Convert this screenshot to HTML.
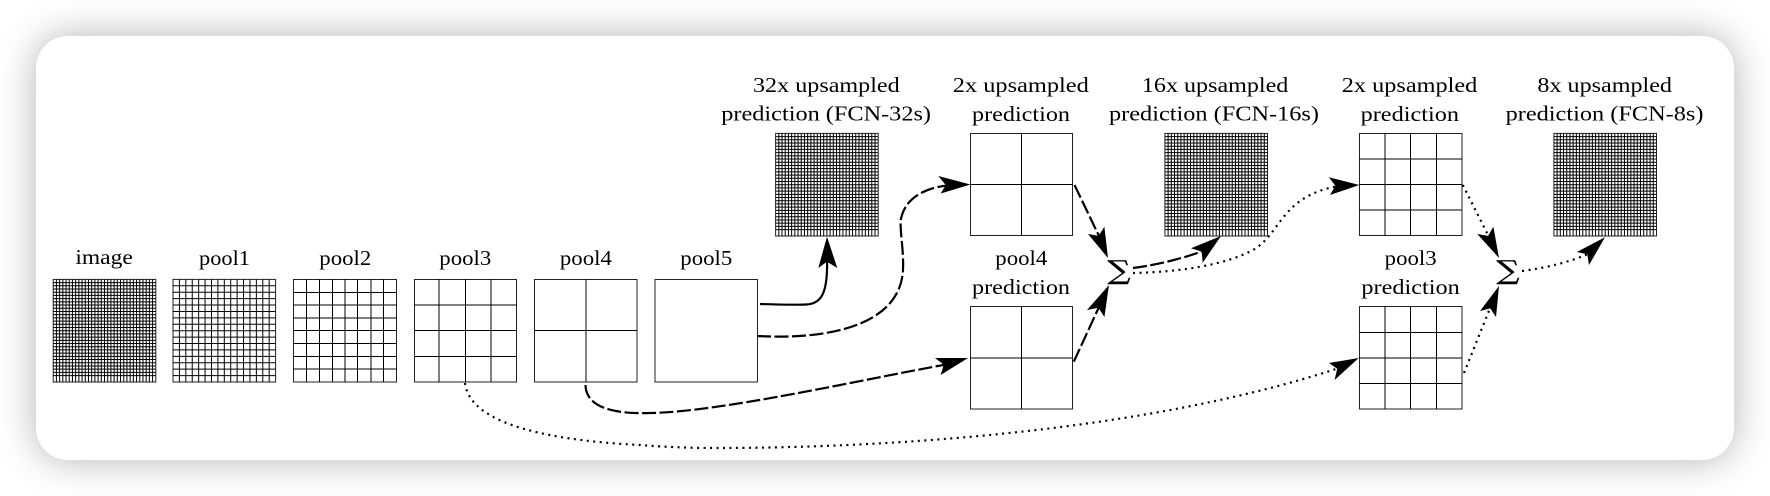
<!DOCTYPE html>
<html><head><meta charset="utf-8"><style>
html,body{margin:0;padding:0;width:1770px;height:496px;overflow:hidden;background:#fff}
#card{position:absolute;left:36px;top:36px;width:1698px;height:424px;background:#fff;border-radius:32px;box-shadow:0 0 38px rgba(0,0,0,.3)}
svg{position:absolute;left:0;top:0}
text{font-family:"Liberation Serif",serif;font-size:21.5px;fill:#000}
</style></head><body><div id="card"></div>
<svg width="1770" height="496" viewBox="0 0 1770 496" xmlns="http://www.w3.org/2000/svg">
<defs>
<g id="g16" fill="none" stroke="#000" stroke-width="1"><rect width="102.6" height="102.6" stroke="#222"/><path d="M6.4125 0v102.6m6.4125-102.6v102.6m6.4125-102.6v102.6m6.4125-102.6v102.6m6.4125-102.6v102.6m6.4125-102.6v102.6m6.4125-102.6v102.6m6.4125-102.6v102.6m6.4125-102.6v102.6m6.4125-102.6v102.6m6.4125-102.6v102.6m6.4125-102.6v102.6m6.4125-102.6v102.6m6.4125-102.6v102.6m6.4125-102.6v102.6M0 6.4125h102.6m-102.6 6.4125h102.6m-102.6 6.4125h102.6m-102.6 6.4125h102.6m-102.6 6.4125h102.6m-102.6 6.4125h102.6m-102.6 6.4125h102.6m-102.6 6.4125h102.6m-102.6 6.4125h102.6m-102.6 6.4125h102.6m-102.6 6.4125h102.6m-102.6 6.4125h102.6m-102.6 6.4125h102.6m-102.6 6.4125h102.6m-102.6 6.4125h102.6"/></g>
<g id="g32" fill="none" stroke="#000" stroke-width="1"><rect width="102.6" height="102.6" stroke="#222"/><path d="M3.206 0v102.6m3.206-102.6v102.6m3.206-102.6v102.6m3.206-102.6v102.6m3.206-102.6v102.6m3.206-102.6v102.6m3.206-102.6v102.6m3.206-102.6v102.6m3.206-102.6v102.6m3.206-102.6v102.6m3.206-102.6v102.6m3.206-102.6v102.6m3.206-102.6v102.6m3.206-102.6v102.6m3.206-102.6v102.6m3.206-102.6v102.6m3.206-102.6v102.6m3.206-102.6v102.6m3.206-102.6v102.6m3.206-102.6v102.6m3.206-102.6v102.6m3.206-102.6v102.6m3.206-102.6v102.6m3.206-102.6v102.6m3.206-102.6v102.6m3.206-102.6v102.6m3.206-102.6v102.6m3.206-102.6v102.6m3.206-102.6v102.6m3.206-102.6v102.6m3.206-102.6v102.6M0 3.206h102.6m-102.6 3.206h102.6m-102.6 3.206h102.6m-102.6 3.206h102.6m-102.6 3.206h102.6m-102.6 3.206h102.6m-102.6 3.206h102.6m-102.6 3.206h102.6m-102.6 3.206h102.6m-102.6 3.206h102.6m-102.6 3.206h102.6m-102.6 3.206h102.6m-102.6 3.206h102.6m-102.6 3.206h102.6m-102.6 3.206h102.6m-102.6 3.206h102.6m-102.6 3.206h102.6m-102.6 3.206h102.6m-102.6 3.206h102.6m-102.6 3.206h102.6m-102.6 3.206h102.6m-102.6 3.206h102.6m-102.6 3.206h102.6m-102.6 3.206h102.6m-102.6 3.206h102.6m-102.6 3.206h102.6m-102.6 3.206h102.6m-102.6 3.206h102.6m-102.6 3.206h102.6m-102.6 3.206h102.6"/></g>
</defs>

<use href="#g32" x="53.2" y="279.4"/>
<use href="#g16" x="173" y="279.4"/>
<use href="#g32" x="775.6" y="133.4"/>
<use href="#g32" x="1164.9" y="133.4"/>
<use href="#g32" x="1553.9" y="133.4"/>

<g fill="none" stroke="#000" stroke-width="1">
<!-- pool2 -->
<rect x="293.5" y="279.5" width="103" height="102.5" stroke="#222"/>
<path d="M306.5 279v103M319.5 279v103M332.5 279v103M345 279v103M357.5 279v103M371 279v103M383.5 279v103"/>
<path d="M293 292.500h104M293 305h104M293 318h104M293 330.500h104M293 343.500h104M293 356.500h104M293 369h104"/>
<!-- pool3 -->
<rect x="414.500" y="279.500" width="102" height="102.500" stroke="#222"/>
<path d="M439 279v103M465.500 279v103M491 279v103M414 305h103M414 330.500h103M414 356.500h103"/>
<!-- pool4 -->
<rect x="534.500" y="279.500" width="102.500" height="102.500" stroke="#222"/>
<path d="M586 279v103M534 330.500h103"/>
<!-- pool5 -->
<rect x="655" y="279.500" width="102.500" height="102.500" stroke="#222"/>
<!-- 2x upsampled -->
<rect x="970.500" y="133.500" width="102" height="102" stroke="#222"/>
<path d="M1021.500 133v103M970 184.500h103"/>
<!-- pool4 prediction -->
<rect x="970.500" y="306.500" width="102" height="102.500" stroke="#222"/>
<path d="M1021.500 306v103M970 358h103"/>
<!-- 2x upsampled second -->
<rect x="1359.500" y="133.500" width="102.500" height="102" stroke="#222"/>
<path d="M1385 133v103M1410.500 133v103M1436.500 133v103M1359 159h103M1359 184.500h103M1359 210h103"/>
<!-- pool3 prediction -->
<rect x="1359.500" y="306.500" width="102.500" height="102.500" stroke="#222"/>
<path d="M1385 306v103M1410.500 306v103M1436.500 306v103M1359 332.500h103M1359 358h103M1359 383.500h103"/>
</g>

<g>
<text x="75.4" y="264" textLength="57.4" lengthAdjust="spacingAndGlyphs">image</text>
<text x="199" y="265" textLength="51" lengthAdjust="spacingAndGlyphs">pool1</text>
<text x="319.3" y="265" textLength="52" lengthAdjust="spacingAndGlyphs">pool2</text>
<text x="439.3" y="265" textLength="52" lengthAdjust="spacingAndGlyphs">pool3</text>
<text x="559.9" y="265" textLength="52" lengthAdjust="spacingAndGlyphs">pool4</text>
<text x="680.3" y="265" textLength="52" lengthAdjust="spacingAndGlyphs">pool5</text>
<text x="753" y="92" textLength="146.7" lengthAdjust="spacingAndGlyphs">32x upsampled</text>
<text x="721.3" y="120.5" textLength="209.7" lengthAdjust="spacingAndGlyphs">prediction (FCN-32s)</text>
<text x="952.8" y="92" textLength="136" lengthAdjust="spacingAndGlyphs">2x upsampled</text>
<text x="972" y="121" textLength="98" lengthAdjust="spacingAndGlyphs">prediction</text>
<text x="995.3" y="265" textLength="52" lengthAdjust="spacingAndGlyphs">pool4</text>
<text x="972" y="294" textLength="98" lengthAdjust="spacingAndGlyphs">prediction</text>
<text x="1141.9" y="92" textLength="146.4" lengthAdjust="spacingAndGlyphs">16x upsampled</text>
<text x="1109" y="120.5" textLength="210" lengthAdjust="spacingAndGlyphs">prediction (FCN-16s)</text>
<text x="1341.8" y="92" textLength="135.5" lengthAdjust="spacingAndGlyphs">2x upsampled</text>
<text x="1360.6" y="121" textLength="98.4" lengthAdjust="spacingAndGlyphs">prediction</text>
<text x="1384.7" y="265" textLength="52" lengthAdjust="spacingAndGlyphs">pool3</text>
<text x="1361.4" y="294" textLength="98.4" lengthAdjust="spacingAndGlyphs">prediction</text>
<text x="1537.4" y="92" textLength="134.6" lengthAdjust="spacingAndGlyphs">8x upsampled</text>
<text x="1505.6" y="120.5" textLength="197.9" lengthAdjust="spacingAndGlyphs">prediction (FCN-8s)</text>
</g>

<g fill="none" stroke="#000" stroke-width="2.2">
<path d="M760 304C775 304.500 795 305 806 304.500C822 304 828 292 827 258"/>
<g stroke-dasharray="14 3.500">
<path d="M757 336C830 340 900 325 903 270C904 245 898 225 902 215C908 195 930 187 948 185.500"/>
<path d="M585.500 385C586 410 620 414 650 413C720 412 860 380 946 364.500"/>
<path d="M1074.500 185L1099 236"/>
<path d="M1073.800 361.700L1099 307"/>
<path d="M1133 268Q1170 263 1203 251"/>
</g>
<g stroke-dasharray="2 4.500">
<path d="M465 383C470 427 560 441 640 445C665 447 690 448 715 448C900 448 1150 430 1339 368"/>
<path d="M1133 273C1180 272 1225 265 1253 250C1282 233 1280 197 1338 186"/>
<path d="M1462.800 185L1488.500 236"/>
<path d="M1464 373L1490.500 307"/>
<path d="M1522 271Q1560 266 1588 254"/>
</g>
</g>

<g fill="#000">
<polygon points="827,236.700 837.300,268 827,261.800 818.300,268"/>
<polygon points="970.500,184.500 938.300,176 945.800,185.100 940.700,193.500"/>
<polygon points="968,358 935,358 943.800,364.800 940.600,375"/>
<polygon points="1358.700,358 1329,363 1337.200,368.800 1334.600,380"/>
<polygon points="1108,258 1088,234 1098.600,235.900 1104.400,226.700"/>
<polygon points="1109,285 1087,310 1098.400,307.800 1104.400,317"/>
<polygon points="1221,236 1191,248.300 1201.700,251.600 1202.700,262.700"/>
<polygon points="1359.400,185 1328.800,177.300 1335.400,185.800 1330,195"/>
<polygon points="1499,258 1477.300,234 1488.100,235.900 1493.400,226.700"/>
<polygon points="1499,286 1480,311 1490.200,308.400 1496,317"/>
<polygon points="1605,237.300 1576.800,252 1587.300,254.300 1589,265"/>
</g>

<text x="1107.500" y="279" style="font-family:'DejaVu Serif','Liberation Serif',serif;font-size:26px;stroke:#000;stroke-width:.4" textLength="23" lengthAdjust="spacingAndGlyphs">∑</text>
<text x="1496.500" y="279" style="font-family:'DejaVu Serif','Liberation Serif',serif;font-size:26px;stroke:#000;stroke-width:.4" textLength="23" lengthAdjust="spacingAndGlyphs">∑</text>
</svg>
</body></html>
